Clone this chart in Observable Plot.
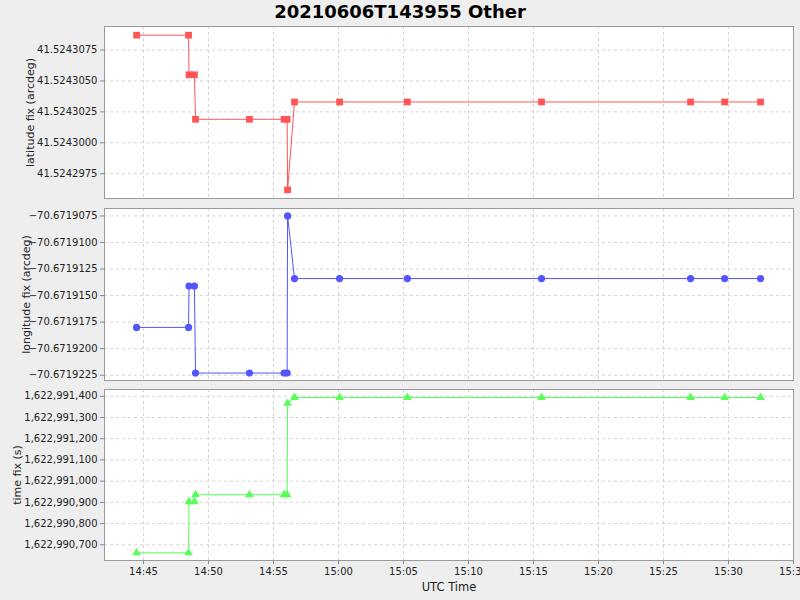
<!DOCTYPE html>
<html>
<head>
<meta charset="utf-8">
<script src="https://cdn.jsdelivr.net/npm/d3@7"></script>
<script src="https://cdn.jsdelivr.net/npm/@observablehq/plot@0.6"></script>
<style>
  html, body { margin: 0; padding: 0; background: #eeeeee; }
  #wrap { position: relative; width: 800px; height: 600px; background: #eeeeee; overflow: hidden; font-family: "DejaVu Sans", sans-serif; }
  #title { position: absolute; left: 0; top: 0; width: 800px; text-align: center; font-weight: bold; font-size: 18px; line-height: 24px; color: #000; }
  .panel { position: absolute; left: 0; }
  .panel svg { overflow: hidden; }
</style>
</head>
<body>
<div id="wrap">
  <div id="title">20210606T143955 Other</div>
</div>
<script>
// ---- data ----
const utcTimes = ["14:44:28","14:48:28","14:48:30","14:48:55","14:49:00","14:53:09","14:55:49","14:56:03","14:56:05","14:56:37","15:00:05","15:05:18","15:15:37","15:27:05","15:29:42","15:32:28"];
const latitudeFix = [41.5243087,41.5243087,41.5243055,41.5243055,41.5243019,41.5243019,41.5243019,41.5243019,41.5242962,41.5243033,41.5243033,41.5243033,41.5243033,41.5243033,41.5243033,41.5243033];
const longitudeFix = [-70.6719180,-70.6719180,-70.6719141,-70.6719141,-70.6719223,-70.6719223,-70.6719223,-70.6719223,-70.6719075,-70.6719134,-70.6719134,-70.6719134,-70.6719134,-70.6719134,-70.6719134,-70.6719134];
const timeFix = [1622990662,1622990662,1622990903,1622990903,1622990936,1622990936,1622990936,1622990936,1622991367,1622991394,1622991394,1622991394,1622991394,1622991394,1622991394,1622991394];
const latTicks = [41.5242975,41.5243000,41.5243025,41.5243050,41.5243075];
const lonTicks = [-70.6719225,-70.6719200,-70.6719175,-70.6719150,-70.6719125,-70.6719100,-70.6719075];
const timeTicks = [1622990700,1622990800,1622990900,1622991000,1622991100,1622991200,1622991300,1622991400];
const xDomain = ["14:42:00","15:35:00"];
const datePrefix = "2021-06-06T";

const parseT = s => new Date(datePrefix + s + "Z");
const rows = utcTimes.map((t, i) => ({t: parseT(t), lat: latitudeFix[i], lon: longitudeFix[i], fix: timeFix[i]}));
const xTicks = d3.utcMinute.every(5).range(parseT("14:45:00"), parseT("15:35:01"));

const grid = {stroke: "#d4d4d4", strokeOpacity: 1, strokeDasharray: "3,3"};
const wrap = document.getElementById("wrap");

function panel({top, height, mt, mb, key, color, symbol, r, domain, ticks, fmt, label, labelOffset, showX}) {
  const marks = [
    Plot.frame({fill: "white", stroke: null}),
    Plot.gridX(xTicks, grid),
    Plot.gridY(ticks, grid),
    Plot.axisY(ticks, {tickFormat: fmt, tickSize: 4, tickPadding: 3, stroke: "#888", fontSize: 10, label, labelAnchor: "center", labelArrow: "none", labelOffset}),
    showX
      ? Plot.axisX(xTicks, {tickFormat: d3.utcFormat("%H:%M"), tickSize: 4, tickPadding: 3, stroke: "#888", fontSize: 10, label: "UTC Time", labelAnchor: "center", labelArrow: "none", labelOffset: 30})
      : Plot.axisX({ticks: [], label: null}),
    Plot.line(rows, {x: "t", y: key, stroke: color, strokeWidth: 1}),
    Plot.dot(rows, {x: "t", y: key, fill: color, stroke: null, symbol, r}),
    Plot.frame({stroke: "#9a9a9a", strokeWidth: 1})
  ];
  const chart = Plot.plot({
    width: 800,
    height,
    marginLeft: 104,
    marginRight: 7,
    marginTop: mt,
    marginBottom: mb,
    style: {background: "transparent", fontFamily: "DejaVu Sans, sans-serif", fontSize: "10px", color: "#222"},
    x: {type: "utc", domain: xDomain.map(parseT)},
    y: {domain, label: null},
    marks
  });
  const div = document.createElement("div");
  div.className = "panel";
  div.style.top = top + "px";
  div.appendChild(chart);
  wrap.appendChild(div);
  chart.querySelectorAll("[aria-label='y-axis label'] text, text[aria-label='y-axis label']").forEach(t => { t.style.fontSize = "11px"; });
  chart.querySelectorAll("[aria-label='x-axis label'] text, text[aria-label='x-axis label']").forEach(t => { t.style.fontSize = "11.5px"; });
}

panel({top: 20, height: 185, mt: 6, mb: 7, key: "lat", color: "#ff5555", symbol: "square", r: 3.8,
  domain: [41.5242955, 41.5243094], ticks: latTicks, fmt: d3.format(".7f"), label: "latitude fix (arcdeg)", labelOffset: 78});
panel({top: 202, height: 183, mt: 6, mb: 5, key: "lon", color: "#5555ff", symbol: "circle", r: 3.6,
  domain: [-70.6719230, -70.6719068], ticks: lonTicks, fmt: d3.format(".7f"), label: "longitude fix (arcdeg)", labelOffset: 82});
panel({top: 383, height: 217, mt: 6, mb: 40, key: "fix", color: "#55ff55", symbol: "triangle", r: 3.2,
  domain: [1622990626, 1622991432], ticks: timeTicks, fmt: d3.format(","), label: "time fix (s)", labelOffset: 91, showX: true});
</script>
</body>
</html>
